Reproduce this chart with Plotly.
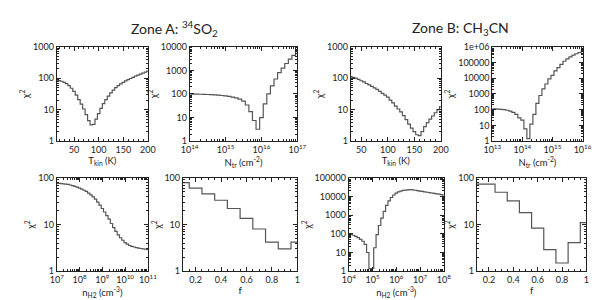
import plotly.graph_objects as go

# ---------------- data ----------------
# Zone A (34SO2)
tkin_A = [15, 20, 25, 30, 35, 40, 45, 50, 55, 60, 65, 70, 75, 80, 85, 90, 95, 100, 105, 110,
          115, 120, 125, 130, 135, 140, 145, 150, 155, 160, 165, 170, 175, 180, 185, 190, 195, 200]
chi2_tkin_A = [87, 84, 80, 74, 67, 58, 48, 38, 29, 21, 15, 10.5, 7, 4.5, 3.3, 3.4, 5, 7.5, 11, 15.5,
               21, 27, 34, 42, 50, 58, 66, 74, 82, 90, 98, 106, 116, 125, 135, 145, 156, 168]

logN_A = [14.0, 14.1, 14.2, 14.3, 14.4, 14.5, 14.6, 14.7, 14.8, 14.9, 15.0, 15.1, 15.2, 15.3, 15.4,
          15.5, 15.6, 15.7, 15.8, 15.9, 16.0, 16.1, 16.2, 16.3, 16.4, 16.5, 16.6, 16.7, 16.8, 16.9, 17.0]
chi2_N_A = [100, 99, 98, 97, 96, 95, 93, 91, 89, 86, 83, 79, 74, 68, 60,
            50, 34, 18, 7.5, 3.2, 10, 38, 100, 220, 430, 800, 1250, 1950, 3000, 4300, 6600]

logn_A = [7.0, 7.1, 7.2, 7.3, 7.4, 7.5, 7.6, 7.7, 7.8, 7.9, 8.0, 8.1, 8.2, 8.3, 8.4, 8.5, 8.6, 8.7,
          8.8, 8.9, 9.0, 9.1, 9.2, 9.3, 9.4, 9.5, 9.6, 9.7, 9.8, 9.9, 10.0, 10.1, 10.2, 10.3, 10.4,
          10.5, 10.6, 10.7, 10.8, 10.9, 11.0]
chi2_n_A = [76, 75.5, 75, 74, 73, 72, 70, 68, 65.5, 63, 60, 57, 54, 51, 47, 43, 39, 35,
            30, 26, 22, 18.5, 15.5, 13, 10.5, 8.6, 7.1, 6.0, 5.2, 4.6, 4.1, 3.8, 3.55, 3.4, 3.3,
            3.2, 3.12, 3.06, 3.0, 2.95, 2.9]

f_A = [0.1, 0.2, 0.3, 0.4, 0.5, 0.6, 0.7, 0.8, 0.9, 1.0]
chi2_f_A = [79, 60, 45, 33, 22, 13.5, 8, 4.2, 3.0, 4.2]

# Zone B (CH3CN)
tkin_B = [30, 35, 40, 45, 50, 55, 60, 65, 70, 75, 80, 85, 90, 95, 100, 105, 110, 115,
          120, 125, 130, 135, 140, 145, 150, 155, 160, 165, 170, 175, 180, 185, 190, 195, 200]
chi2_tkin_B = [112, 107, 100, 92, 83, 76, 68, 61, 55, 49, 44, 38, 33, 29, 25, 20, 16.5, 13,
               10.5, 8.5, 6.5, 4.8, 3.5, 2.6, 2.0, 1.6, 1.5, 2.0, 2.9, 3.9, 5.0, 6.3, 8.0, 10, 12.5]

logN_B = [13.0, 13.1, 13.2, 13.3, 13.4, 13.5, 13.6, 13.7, 13.8, 13.9, 14.0, 14.1, 14.2, 14.3, 14.4,
          14.5, 14.6, 14.7, 14.8, 14.9, 15.0, 15.1, 15.2, 15.3, 15.4, 15.5, 15.6, 15.7, 15.8, 15.9, 16.0]
chi2_N_B = [115, 113, 110, 106, 100, 92, 82, 68, 50, 30, 22, 6, 1.45, 12, 50,
            250, 800, 2100, 4300, 9000, 15000, 29000, 47000, 75000, 120000, 170000, 230000,
            290000, 360000, 430000, 480000]

logn_B = [4.0, 4.1, 4.2, 4.3, 4.4, 4.5, 4.6, 4.7, 4.8, 4.9, 5.0, 5.1, 5.2, 5.3, 5.4, 5.5, 5.6, 5.7,
          5.8, 5.9, 6.0, 6.1, 6.2, 6.3, 6.4, 6.5, 6.6, 6.7, 6.8, 6.9, 7.0, 7.1, 7.2, 7.3, 7.4,
          7.5, 7.6, 7.7, 7.8, 7.9, 8.0]
chi2_n_B = [100, 92, 84, 74, 63, 50, 40, 27, 10, 1.4, 1.4, 18, 90, 280, 700, 1600, 3300, 5800,
            8800, 12000, 15000, 17500, 19500, 21000, 22000, 22500, 23000, 22500, 21500, 20500, 19500,
            18500, 17500, 16800, 16000, 15300, 14600, 13900, 13200, 12500, 11800]

f_B = [0.1, 0.2, 0.3, 0.4, 0.5, 0.6, 0.7, 0.8, 0.9, 1.0]
chi2_f_B = [73, 73, 49, 32, 18, 8.4, 2.9, 1.5, 4.1, 11]

# tick labels
tk_T = [50, 100, 150, 200]
tk_f = [0.2, 0.4, 0.6, 0.8, 1]
tk_f_text = ["0.2", "0.4", "0.6", "0.8", "1"]
tk_y = [1, 10, 100, 1000, 10000, 100000, 1000000]
tk_y_text = ["1", "10", "100", "1000", "10000", "100000", "1e+06"]

titles = ["Zone A: <sup>34</sup>SO<sub>2</sub>", "Zone B: CH<sub>3</sub>CN"]
xtitle_T = "T<sub>kin</sub> (K)"
xtitle_N = "N<sub>tr</sub> (cm<sup>-2</sup>)"
xtitle_n = "n<sub>H2</sub> (cm<sup>-3</sup>)"
xtitle_f = "f"
ytitle = "χ<sup>2</sup>"

# --------------- layout helpers ---------------
W, H = 600, 300
FONT = "Lato"
INK = "#222222"
CURVE = "#555555"

def dom_x(a, b):
    return [a / W, b / W]

def dom_y(top, bottom):
    return [1 - bottom / H, 1 - top / H]

# panel boxes in pixels: (left, right, top, bottom)
boxes = [
    (41, 135, 34, 132), (178, 289, 34, 132), (344, 437, 34, 132), (490, 583, 34, 132),
    (41, 135, 170, 267), (171, 289, 170, 267), (342, 440, 170, 267), (474, 587, 170, 267),
]

def log_ticks(lo, hi):
    vals = [10 ** e for e in range(lo, hi + 1)]
    text = ["10<sup>%d</sup>" % e for e in range(lo, hi + 1)]
    return vals, text

panels = [
    dict(x=tkin_A, y=chi2_tkin_A, xtype="linear", xrange=[15, 200], tv=tk_T, tt=[str(v) for v in tk_T],
         xt=xtitle_T, yr=(0, 3)),
    dict(x=[10 ** v for v in logN_A], y=chi2_N_A, xtype="log", xrange=[14, 17], lt=(14, 17),
         xt=xtitle_N, yr=(0, 4)),
    dict(x=tkin_B, y=chi2_tkin_B, xtype="linear", xrange=[30, 200], tv=tk_T, tt=[str(v) for v in tk_T],
         xt=xtitle_T, yr=(0, 3)),
    dict(x=[10 ** v for v in logN_B], y=chi2_N_B, xtype="log", xrange=[13, 16], lt=(13, 16),
         xt=xtitle_N, yr=(0, 6)),
    dict(x=[10 ** v for v in logn_A], y=chi2_n_A, xtype="log", xrange=[7, 11], lt=(7, 11),
         xt=xtitle_n, yr=(0, 2)),
    dict(x=f_A, y=chi2_f_A, xtype="linear", xrange=[0.1, 1.0], tv=tk_f, tt=tk_f_text,
         xt=xtitle_f, yr=(0, 2)),
    dict(x=[10 ** v for v in logn_B], y=chi2_n_B, xtype="log", xrange=[4, 8], lt=(4, 8),
         xt=xtitle_n, yr=(0, 5)),
    dict(x=f_B, y=chi2_f_B, xtype="linear", xrange=[0.1, 1.0], tv=tk_f, tt=tk_f_text,
         xt=xtitle_f, yr=(0, 2)),
]

fig = go.Figure()
layout = dict(
    width=W, height=H, margin=dict(l=0, r=0, t=0, b=0),
    paper_bgcolor="white", plot_bgcolor="white", showlegend=False,
    font=dict(family=FONT, color=INK, size=9),
)

common = dict(showline=True, mirror="allticks", linecolor=INK, linewidth=1, ticks="inside",
              ticklen=4, tickcolor=INK, tickwidth=1, showgrid=False, zeroline=False,
              tickfont=dict(size=9, family=FONT, color=INK))

for i, p in enumerate(panels):
    k = "" if i == 0 else str(i + 1)
    l, r, t, b = boxes[i]
    fig.add_trace(go.Scatter(x=p["x"], y=p["y"], mode="lines", line=dict(color=CURVE, width=1.2, shape="hvh"),
                             xaxis="x" + k, yaxis="y" + k, hoverinfo="skip"))
    xa = dict(common, domain=dom_x(l, r), anchor="y" + k, range=p["xrange"], type=p["xtype"],
              title=dict(text=p["xt"], font=dict(size=9.5, family=FONT, color=INK), standoff=0))
    if p["xtype"] == "log":
        vals, text = log_ticks(*p["lt"])
        xa.update(tickmode="array", tickvals=vals, ticktext=text,
                  minor=dict(ticks="inside", ticklen=2, tickcolor=INK, dtick="D1", showgrid=False))
    else:
        xa.update(tickmode="array", tickvals=p["tv"], ticktext=p["tt"],
                  minor=dict(ticks="inside", ticklen=2, tickcolor=INK, nticks=5, showgrid=False))
    lo, hi = p["yr"]
    ya = dict(common, domain=dom_y(t, b), anchor="x" + k, type="log", range=[lo, hi],
              tickmode="array", tickvals=tk_y[lo:hi + 1], ticktext=tk_y_text[lo:hi + 1],
              minor=dict(ticks="inside", ticklen=2, tickcolor=INK, dtick="D1", showgrid=False),
              title=dict(text=ytitle, font=dict(size=9.5, family=FONT, color=INK), standoff=1))
    layout["xaxis" + k] = xa
    layout["yaxis" + k] = ya

layout["annotations"] = [
    dict(text=titles[0], x=162 / W, y=1 - 15 / H, xref="paper", yref="paper", showarrow=False,
         font=dict(size=14, family=FONT, color=INK), xanchor="center", yanchor="middle"),
    dict(text=titles[1], x=457 / W, y=1 - 15 / H, xref="paper", yref="paper", showarrow=False,
         font=dict(size=14, family=FONT, color=INK), xanchor="center", yanchor="middle"),
]

fig.update_layout(**layout)
fig.write_html("out.html")
